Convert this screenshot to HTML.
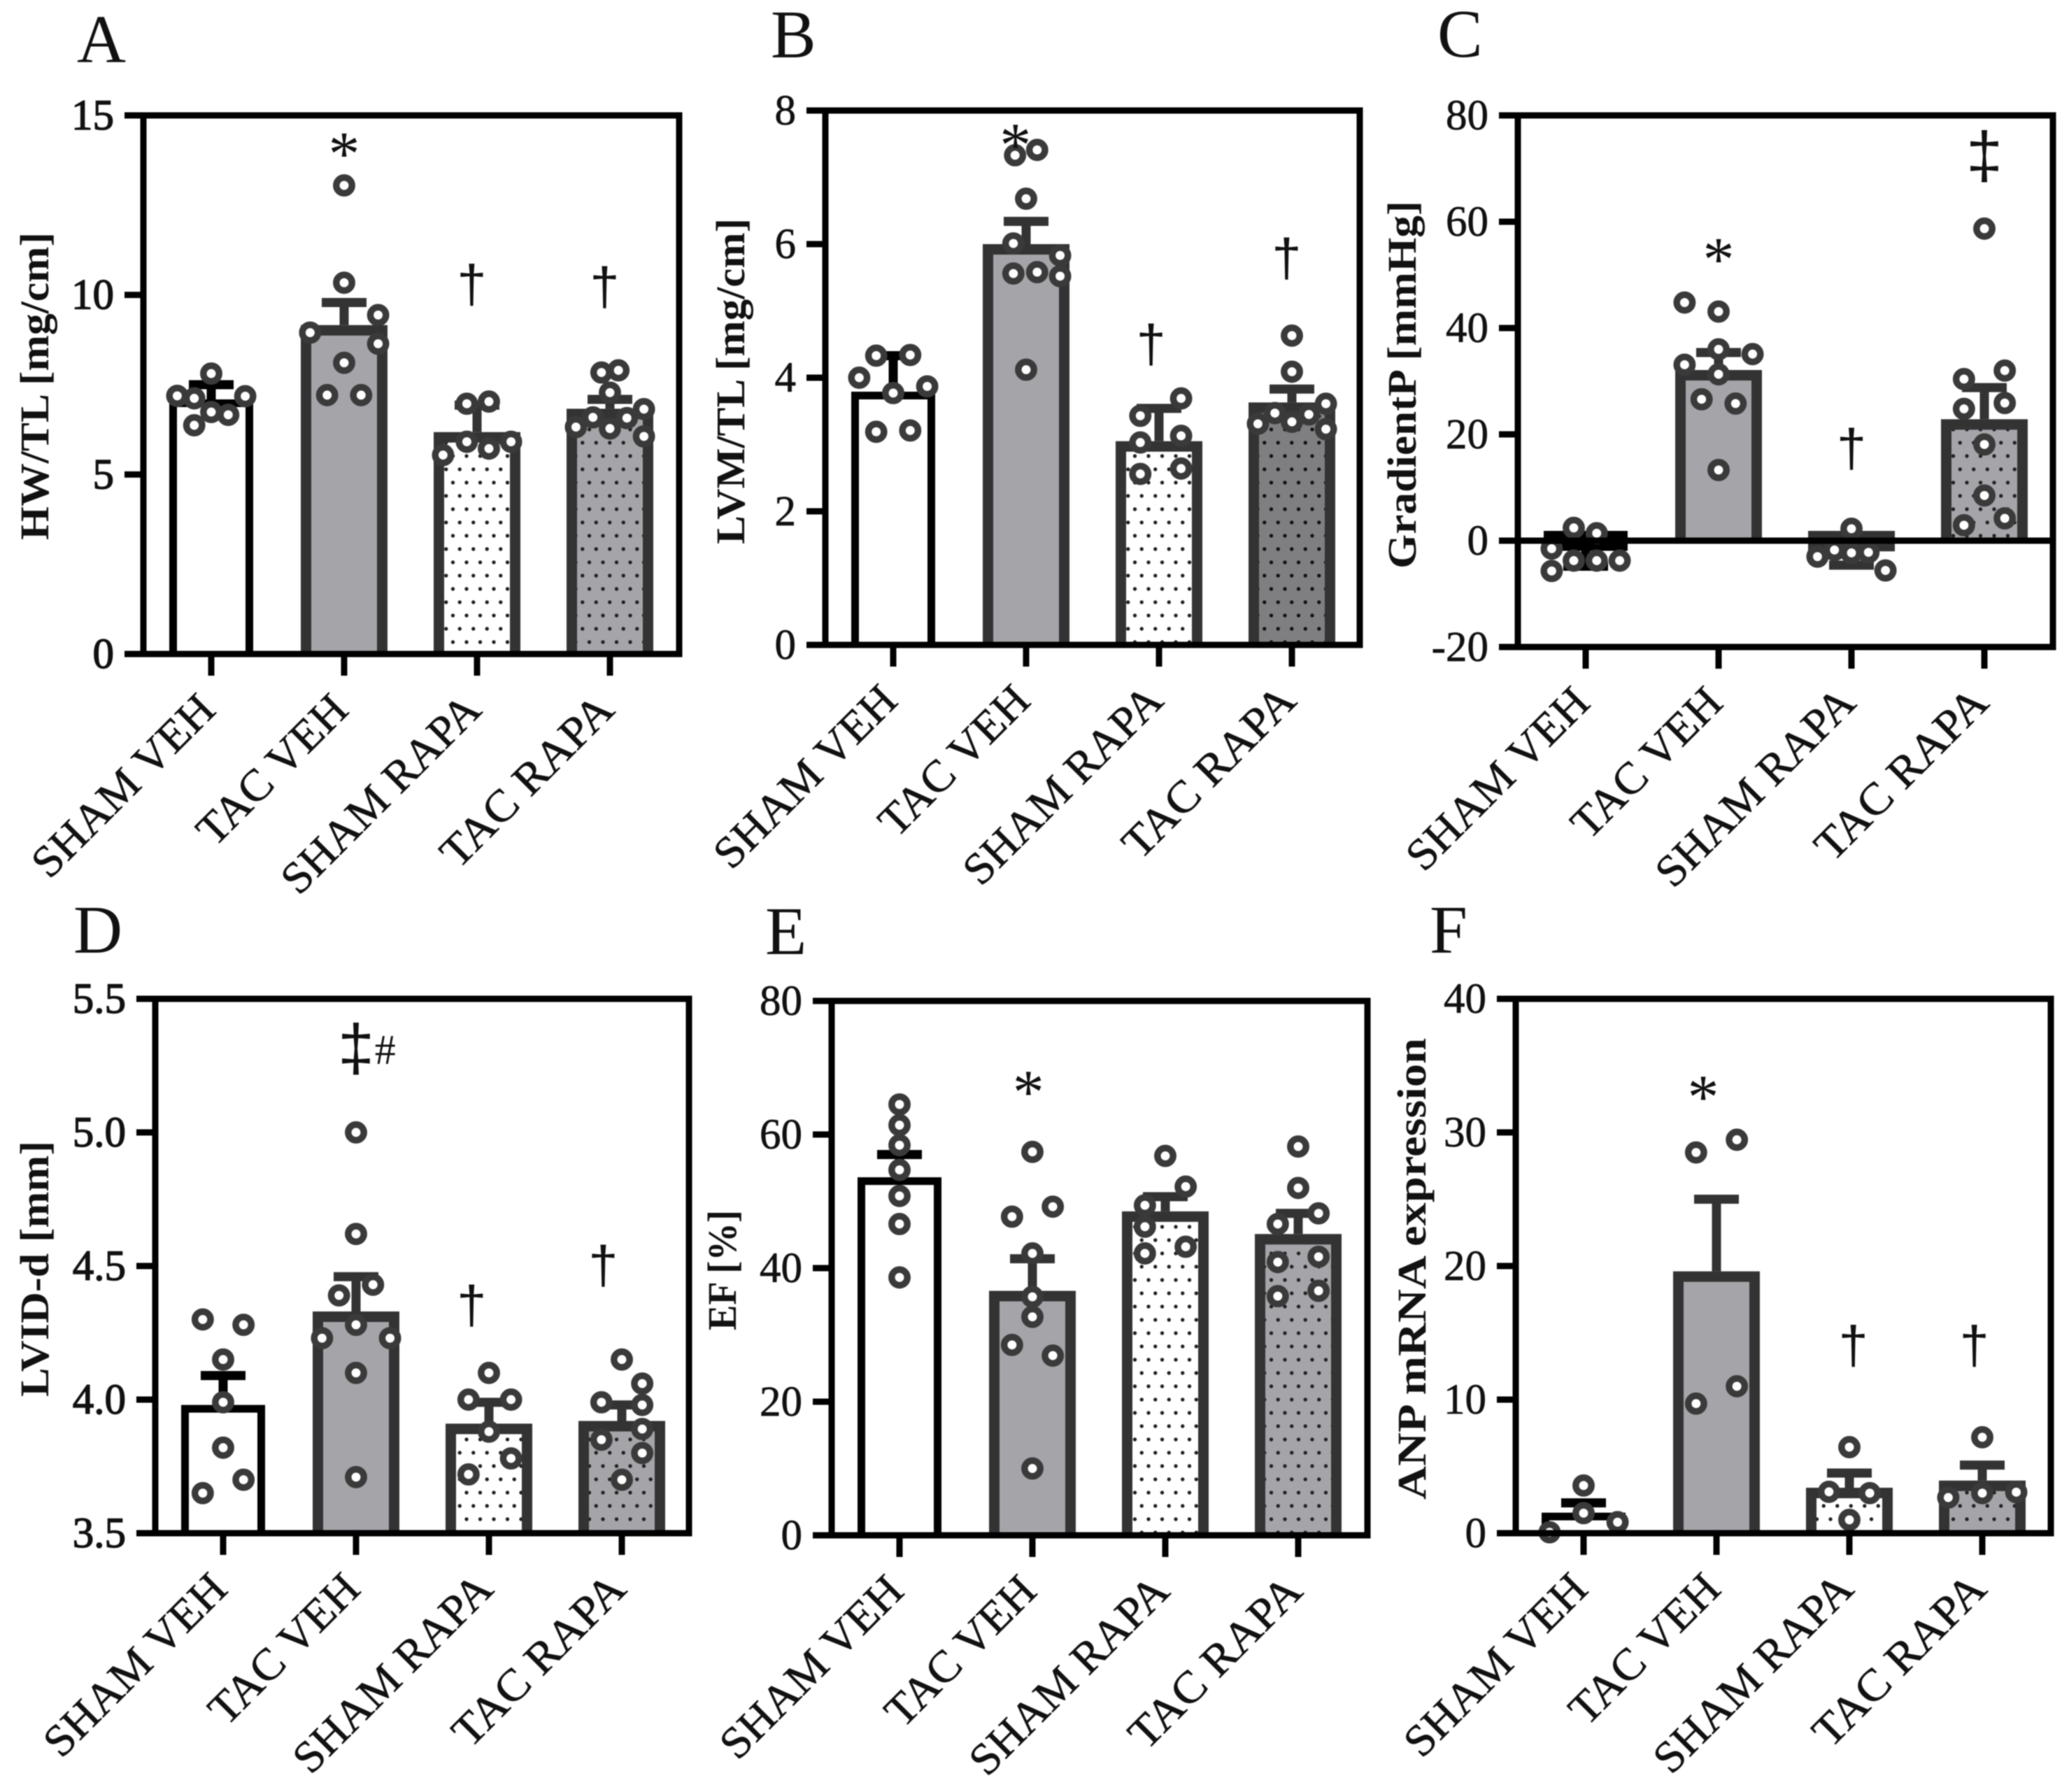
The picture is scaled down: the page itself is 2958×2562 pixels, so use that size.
<!DOCTYPE html>
<html lang="en">
<head>
<meta charset="utf-8">
<title>Cardiac measurements in SHAM and TAC groups</title>
<style>
html,body{margin:0;padding:0;background:#fff;}
svg{display:block;font-family:"Liberation Serif",serif;filter:blur(0.7px);}
</style>
</head>
<body>
<svg id="figure" xmlns="http://www.w3.org/2000/svg" width="2958" height="2562" viewBox="0 0 2958 2562">
<rect width="2958" height="2562" fill="#fff"/>
<defs>
<pattern id="dotsWhite" width="19.5" height="38" patternUnits="userSpaceOnUse"><rect width="19.5" height="38" fill="#fff"/><circle cx="4" cy="6" r="2.7" fill="#222"/><circle cx="13.75" cy="25" r="2.7" fill="#222"/></pattern>
<pattern id="dotsGrey" width="19.5" height="38" patternUnits="userSpaceOnUse"><rect width="19.5" height="38" fill="#a5a4a9"/><circle cx="4" cy="6" r="2.7" fill="#222"/><circle cx="13.75" cy="25" r="2.7" fill="#222"/></pattern>
<pattern id="dotsDark" width="19.5" height="38" patternUnits="userSpaceOnUse"><rect width="19.5" height="38" fill="#7f7f82"/><circle cx="4" cy="6" r="2.7" fill="#111"/><circle cx="13.75" cy="25" r="2.7" fill="#111"/></pattern>
</defs>
</svg>
<script>
const categories = ["SHAM VEH", "TAC VEH", "SHAM RAPA", "TAC RAPA"];

// Panel A
const aTicks = [0, 5, 10, 15];
const aMeans = [7.09, 9.16, 6.18, 6.83];
const aErrors = [0.41, 0.63, 0.75, 0.26];
const aPoints = [[7.81,7.19,7.18,7.12,6.74,6.66,6.37],[13.05,10.34,9.44,8.95,8.64,8.11,7.21,7.21],[6.97,7.03,5.91,5.72,5.91,5.54],[7.84,7.9,7.28,6.82,6.59,6.57,6.32,6.28,6.06]];
const aJitter = [[0,-2,2,-1,0,1,-1],[0,0,2,-2,2,0,-1,1],[-0.6,0.7,-0.6,0.7,2,-2],[-0.5,0.5,0,2,-1,1,-2,0,2]];
const aMarks = ["*", "†", "†"];
const aMarkGroups = [1, 1.96, 2.96];
const aMarkValues = [14.17, 10.2, 10.13];

// Panel B
const bTicks = [0, 2, 4, 6, 8];
const bMeans = [3.79, 6.0, 3.05, 3.63];
const bErrors = [0.54, 0.34, 0.49, 0.2];
const bPoints = [[4.33,4.34,4.0,3.87,3.77,3.19,3.21],[6.68,7.33,7.41,6.01,5.83,5.56,5.58,5.52,4.12],[3.69,3.43,3.13,3.03,2.56,2.64],[4.63,4.09,3.61,3.47,3.45,3.34,3.31,3.23]];
const bJitter = [[-1,1,-2,2,0,-1,1],[0,-0.65,0.65,-0.75,2,-0.75,0.65,2,0],[1.3,-1.1,1.3,-1.1,-1.1,1.3],[0,0,2,-1,1,0,-2,2]];
const bMarks = ["*", "†", "†"];
const bMarkGroups = [0.92, 1.94, 2.96];
const bMarkValues = [7.61, 4.45, 5.74];

// Panel C
const cTicks = [-20, 0, 20, 40, 60, 80];
const cMeans = [-1.9, 32.1, -2.0, 22.85];
const cErrors = [2.9, 3.3, 2.6, 5.95];
const cPoints = [[2.4,1.4,-1.5,-3.75,-3.75,-3.75,-5.7],[44.8,43.1,36,35.1,33.1,31.3,26.6,25.8,13.3],[2.25,-3,-1.75,-2.2,-5.6,-2.3],[58.7,32,30.4,24.8,25.9,18.1,8.5,4.2,2.9]];
const cJitter = [[-0.7,0.65,-2,-0.7,0.65,2,-2],[-2,0,0,2,-2,0,-1,1,0],[0,-2,-1,1,2,0],[0,1.2,-1.2,-1.2,1.2,0,0,1.2,-1.2]];
const cMarks = ["*", "†", "‡"];
const cMarkGroups = [1, 2, 3];
const cMarkValues = [54.5, 16.7, 71.6];

// Panel D
const dTicks = [3.5, 4.0, 4.5, 5.0, 5.5];
const dMeans = [3.98, 4.33, 3.91, 3.92];
const dErrors = [0.11, 0.13, 0.08, 0.06];
const dPoints = [[4.30,4.28,4.15,3.99,3.82,3.70,3.65],[5.0,4.62,4.43,4.39,4.28,4.23,4.23,4.10,3.71],[4.10,4.0,4.0,3.88,3.78,3.72],[4.15,4.06,3.99,3.98,3.89,3.85,3.80,3.70]];
const dJitter = [[-1.2,1.2,0,0,0,1.2,-1.2],[0,0,1,-1,0,-2,2,0,0],[0,-1.2,1.3,0,1.3,-1.2],[0,1.2,-1.2,1.2,1.2,-1.2,1.2,0]];
const dMarks = ["‡", "#", "†", "†"];
const dMarkGroups = [1, 1.22, 1.87, 2.86];
const dMarkValues = [5.3, 5.31, 4.34, 4.49];

// Panel E
const eTicks = [0, 20, 40, 60, 80];
const eMeans = [53.6, 36.6, 48.5, 45.1];
const eErrors = [3.4, 4.8, 2.2, 3.1];
const ePoints = [[64.5,61.4,58.4,54.7,50.8,46.6,38.6],[57.4,49.2,47.7,42.2,35.7,32.7,28.5,26.9,10],[56.8,52.2,49.4,46.2,43.2,42.2],[58.2,52,48.2,46.6,41.7,40.9,36.6,35.8]];
const eJitter = [[0,0,0,0,0,0,0],[0,1.2,-1.2,0,0,0,-1.2,1.2,0],[0,1.2,-1.2,-1.2,1.2,-1.2],[0,0,1.2,-1.2,1.2,-1.2,1.2,-1.2]];
const eMarks = ["*"];
const eMarkGroups = [0.97];
const eMarkValues = [67.6];

// Panel F
const fTicks = [0, 10, 20, 30, 40];
const fMeans = [1.54, 19.6, 3.4, 3.94];
const fErrors = [0.73, 5.4, 1.1, 1.16];
const fPoints = [[3.57,1.5,0.83,0.07],[29.45,28.5,11,9.7],[6.44,3.1,3.0,1.0],[7.18,3.0,3.07,2.67]];
const fJitter = [[0,0,2,-2],[1.2,-1.2,1.2,-1.2],[0,-1.2,1.2,0],[0,0,2,-2]];
const fMarks = ["*", "†", "†"];
const fMarkGroups = [0.9, 2.03, 2.94];
const fMarkValues = [33.3, 13.8, 13.8];

const NS = "http://www.w3.org/2000/svg";
const root = document.getElementById("figure");
const SLOT = 24.3, STEP = 190;
const BAR_W = 124, BAR_W_FIRST = 120;

function make(parent, tag, attrs, txt) {
  const el = document.createElementNS(NS, tag);
  for (const k in attrs) el.setAttribute(k, attrs[k]);
  if (txt !== undefined) el.textContent = txt;
  parent.appendChild(el);
  return el;
}
function slug(s) { return s.toLowerCase().replace(/\s+/g, "-"); }

function drawPanel(p) {
  const g = make(root, "g", {});
  
  

  const lo = p.ticks[0], hi = p.ticks[p.ticks.length - 1];
  const y = v => p.b - (v - lo) / (hi - lo) * (p.b - p.t);
  const x = i => p.l + 97 + STEP * i;
  const base = lo < 0 ? 0 : lo;

  // bars: upright bars have no bottom stroke, downward bars are closed boxes
  p.means.forEach((m, i) => {
    const sw = i === 0 ? 11 : 15;
    const w = (i === 0 ? BAR_W_FIRST : BAR_W) - sw;
    const x0 = x(i) - w / 2, x1 = x(i) + w / 2;
    let d;
    if (m >= base) {
      d = "M" + x0 + " " + y(base) + "V" + (y(m) + sw / 2) + "H" + x1 + "V" + y(base);
    } else {
      d = "M" + x0 + " " + (y(base) - 14 + sw / 2) + "H" + x1 + "V" + (y(m) - sw / 2) + "H" + x0 + "Z";
    }
    const fills = ["#fff", "#a5a4a9", "url(#dotsWhite)", p.darkFour ? "url(#dotsDark)" : "url(#dotsGrey)"];
    const bar = make(g, "path", { d: d, fill: fills[i], stroke: i === 0 ? "#000" : "#333", "stroke-width": sw });
    
    
  });

  // error bars
  p.means.forEach((m, i) => {
    const col = i === 0 ? "#000" : "#333";
    const dir = m >= base ? 1 : -1;
    const cap = y(m + dir * p.errors[i]);
    const stem = make(g, "line", { x1: x(i), x2: x(i), y1: y(m), y2: cap, stroke: col, "stroke-width": 13 });
    
    
    const capLine = make(g, "line", { x1: x(i) - 32, x2: x(i) + 32, y1: cap, y2: cap, stroke: col, "stroke-width": 13 });
    
    
  });

  // points
  p.points.forEach((vals, i) => {
    vals.forEach((v, j) => {
      const c = make(g, "circle", { cx: x(i) + p.jitter[i][j] * SLOT, cy: y(v), r: 11.2, fill: "#fff", stroke: "#3a3a3a", "stroke-width": 9.5 });
      
      
    });
  });

  // frame and zero line
  const frame = make(g, "rect", { x: p.l, y: p.t, width: p.r - p.l, height: p.b - p.t, fill: "none", stroke: "#000", "stroke-width": 9 });
  
  
  if (lo < 0) {
    const zero = make(g, "line", { x1: p.l, x2: p.r, y1: y(0), y2: y(0), stroke: "#000", "stroke-width": 9 });
    
    
  }

  // y ticks
  p.ticks.forEach(t => {
    const tick = make(g, "line", { x1: p.l - 27, x2: p.l, y1: y(t), y2: y(t), stroke: "#000", "stroke-width": 9 });
    
    
    const label = make(g, "text", { x: p.l - 42, y: y(t) + 20, "text-anchor": "end", "font-size": 61, fill: "#111", stroke: "#111", "stroke-width": p.heavy ? 1.4 : 0.7 }, p.decimals ? t.toFixed(p.decimals) : String(t));
    
    
  });

  // x ticks and labels
  categories.forEach((name, i) => {
    const tick = make(g, "line", { x1: x(i), x2: x(i), y1: p.b, y2: p.b + 31, stroke: "#000", "stroke-width": 9 });
    
    
    const lx = x(i) + 9, ly = p.b + 83;
    const label = make(g, "text", { x: lx, y: ly, "text-anchor": "end", "font-size": 64, fill: "#111", stroke: "#111", "stroke-width": 0.6, transform: "rotate(-45 " + lx + " " + ly + ")", textLength: [340, 275, 373, 320][i], lengthAdjust: "spacingAndGlyphs" }, name);
    
    
  });

  // y title
  const yt = make(g, "text", { x: p.titleX, y: p.titleY, "text-anchor": "middle", "font-size": 58, "font-weight": "bold", fill: "#111", transform: "rotate(-90 " + p.titleX + " " + p.titleY + ")", textLength: p.titleLen, lengthAdjust: "spacingAndGlyphs" }, p.title);
  
  

  // panel letter
  const pl = make(g, "text", { x: p.letterX, y: p.letterY, "font-size": 97, fill: "#111" }, p.letter);
  
  

  // significance marks
  const markSize = { "*": 90, "†": 76, "‡": 94, "#": 60 };
  const markLift = { "*": 0.47, "†": 0.27, "‡": 0.27, "#": 0.34 };
  const markFont = { "*": "Liberation Serif", "†": "Liberation Sans", "‡": "Liberation Sans", "#": "Liberation Serif" };
  p.marks.forEach((s, k) => {
    const fs = markSize[s];
    const mx = x(p.markGroups[k]);
    const mk = make(g, "text", { x: mx, y: y(p.markValues[k]) + markLift[s] * fs, "text-anchor": "middle", "font-size": fs, "font-family": markFont[s] + ", serif", fill: "#111" }, s);
    
    
  });
}

drawPanel({ letter: "A", letterX: 110, letterY: 89, l: 205, r: 971, t: 165, b: 935, ticks: aTicks, means: aMeans, errors: aErrors, points: aPoints, jitter: aJitter, marks: aMarks, markGroups: aMarkGroups, markValues: aMarkValues, title: "HW/TL [mg/cm]", titleX: 69, titleY: 552, titleLen: 440, heavy: true });
drawPanel({ letter: "B", letterX: 1102, letterY: 82, l: 1180, r: 1944, t: 158, b: 922, ticks: bTicks, means: bMeans, errors: bErrors, points: bPoints, jitter: bJitter, marks: bMarks, markGroups: bMarkGroups, markValues: bMarkValues, title: "LVM/TL [mg/cm]", titleX: 1064, titleY: 545, titleLen: 466, darkFour: true });
drawPanel({ letter: "C", letterX: 2055, letterY: 81, l: 2170, r: 2935, t: 165, b: 925, ticks: cTicks, means: cMeans, errors: cErrors, points: cPoints, jitter: cJitter, marks: cMarks, markGroups: cMarkGroups, markValues: cMarkValues, title: "GradientP [mmHg]", titleX: 2024, titleY: 550, titleLen: 526 });
drawPanel({ letter: "D", letterX: 105, letterY: 1362, l: 222, r: 985, t: 1428, b: 2192, ticks: dTicks, means: dMeans, errors: dErrors, points: dPoints, jitter: dJitter, marks: dMarks, markGroups: dMarkGroups, markValues: dMarkValues, title: "LVID-d [mm]", titleX: 69, titleY: 1814, titleLen: 366, decimals: 1, heavy: true });
drawPanel({ letter: "E", letterX: 1094, letterY: 1364, l: 1189, r: 1955, t: 1431, b: 2195, ticks: eTicks, means: eMeans, errors: eErrors, points: ePoints, jitter: eJitter, marks: eMarks, markGroups: eMarkGroups, markValues: eMarkValues, title: "EF [%]", titleX: 1052, titleY: 1816, titleLen: 172 });
drawPanel({ letter: "F", letterX: 2044, letterY: 1362, l: 2167, r: 2932, t: 1428, b: 2192, ticks: fTicks, means: fMeans, errors: fErrors, points: fPoints, jitter: fJitter, marks: fMarks, markGroups: fMarkGroups, markValues: fMarkValues, title: "ANP mRNA expression", titleX: 2038, titleY: 1814, titleLen: 660 });
</script>
</body>
</html>
